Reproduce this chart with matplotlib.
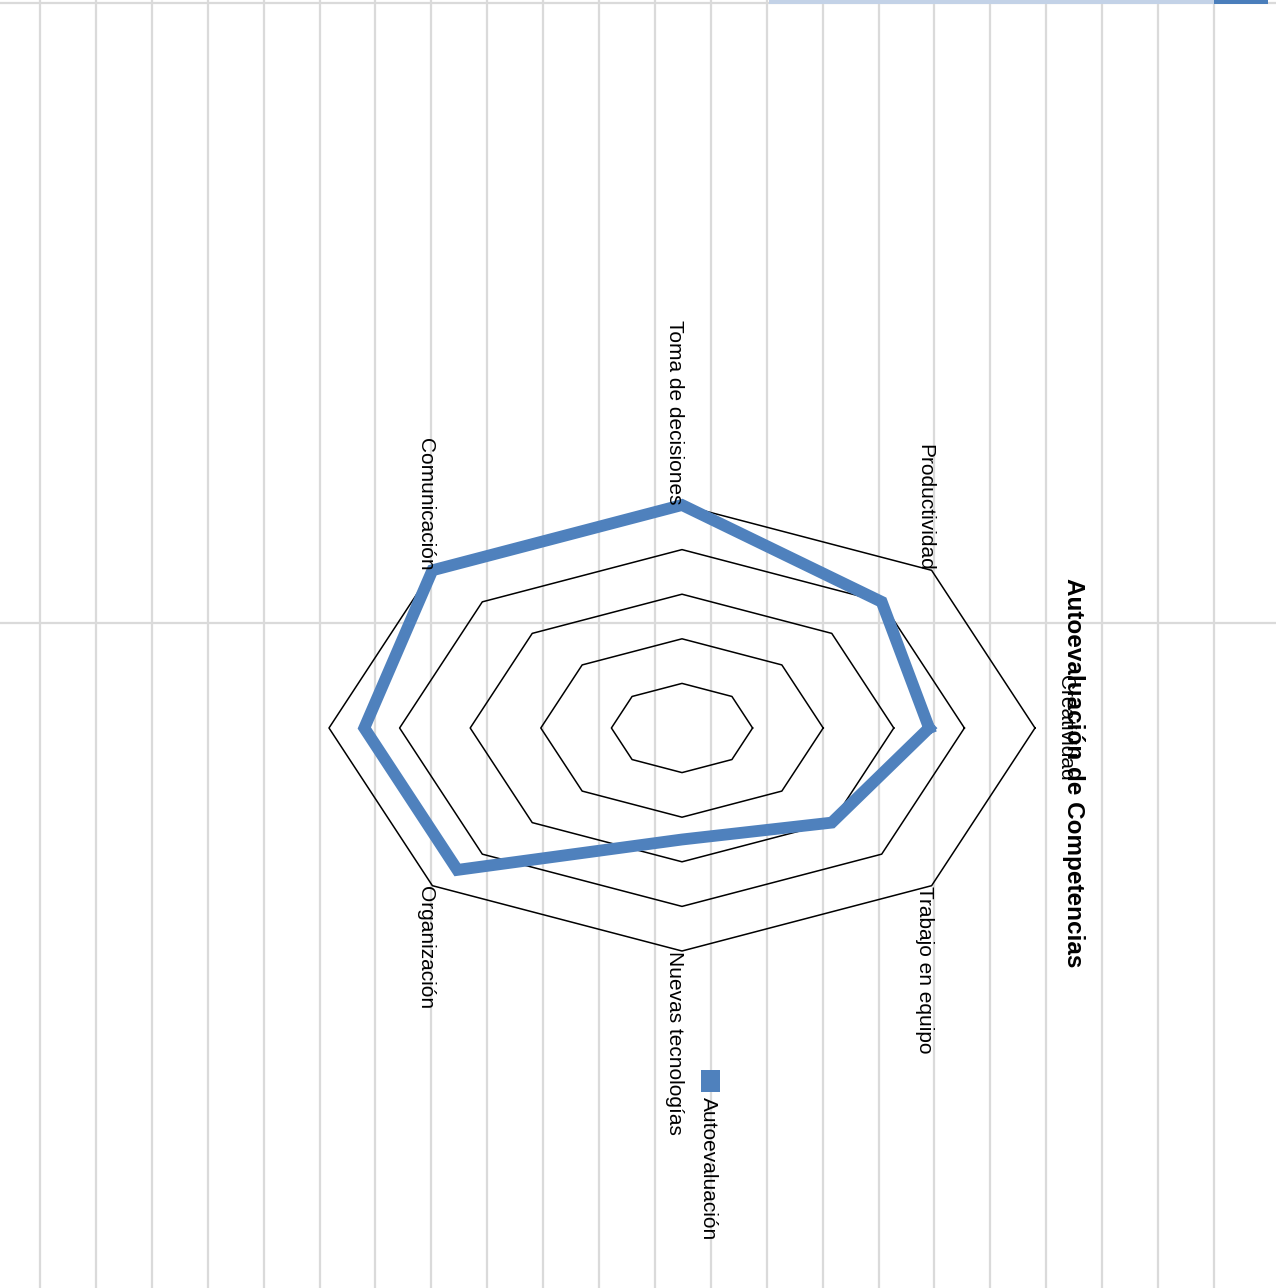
import numpy as np
import matplotlib
matplotlib.use("Agg")
import matplotlib.pyplot as plt
from matplotlib.patches import Rectangle

# axes in the order of the original chart, clockwise (picture is turned 90 deg)
categories = ["Creatividad", "Trabajo en equipo", "Nuevas tecnologías", "Organización",
              "", "Comunicación", "Toma de decisiones", "Productividad"]
autoevaluacion = [3.5, 3, 2.5, 4.5, 4.5, 5, 5, 4]
rings = [1, 2, 3, 4, 5]
title = "Autoevaluación de Competencias"
series_name = "Autoevaluación"

blue = "#4f81bd"
font = ["Liberation Sans", "DejaVu Sans"]

W, H = 1276, 1288
fig = plt.figure(figsize=(W / 100, H / 100), dpi=100)

# spreadsheet background
bg = fig.add_axes([0, 0, 1, 1])
bg.set_xlim(0, W)
bg.set_ylim(H, 0)
bg.axis("off")
for x in np.linspace(40, 1214, 22):
    bg.axvline(x, color="#dadada", lw=1.6, zorder=0)
for y in [3, 623]:
    bg.axhline(y, color="#dadada", lw=1.6, zorder=0)
bg.add_patch(Rectangle((769, 0), 445, 4, color="#c3d2e7", lw=0, zorder=1))
bg.add_patch(Rectangle((1214, 0), 54, 4, color="#4a7ebb", lw=0, zorder=1))

# radar drawn in its own axes, squashed like the original
cx, cy = 682, 728
ux, uy = 70.6, 44.6   # pixels per unit
lim = 6.5
ax = fig.add_axes([(cx - lim * ux) / W, (H - cy - lim * uy) / H,
                   2 * lim * ux / W, 2 * lim * uy / H])
ax.set_xlim(-lim, lim)
ax.set_ylim(-lim, lim)
ax.axis("off")
ax.patch.set_alpha(0)

n = len(categories)
theta = 2 * np.pi * np.arange(n) / n
cs, sn = np.cos(theta), -np.sin(theta)

for r in rings:
    ax.plot(np.append(r * cs, r * cs[0]), np.append(r * sn, r * sn[0]),
            color="black", lw=1.1, zorder=2)

vals = np.array(autoevaluacion, dtype=float)
ax.plot(np.append(vals * cs, vals[0] * cs[0]), np.append(vals * sn, vals[0] * sn[0]),
        color=blue, lw=8.5, solid_joinstyle="miter", zorder=3)

rmax = max(rings)
for lab, c, s in zip(categories, cs, sn):
    if not lab:
        continue
    if abs(s) < 0.01:
        ha, va = ("left", "center") if c > 0 else ("right", "center")
        dx = 0.3 if c > 0 else -0.3
    else:
        ha = "center"
        va = "bottom" if s > 0 else "top"
        dx = -0.1
    ax.text(rmax * c + dx, rmax * s, lab,
            rotation=270, ha=ha, va=va, fontsize=15, family=font, zorder=4)

fig.text(1073 / W, 1 - 773 / H, title, rotation=270, ha="center", va="center",
         fontsize=17.5, fontweight="bold", family=font)

bg.add_patch(Rectangle((701, 1070), 19, 22, color=blue, lw=0, zorder=5))
bg.text(708, 1097, series_name, rotation=270, ha="center", va="top",
        fontsize=15, family=font)

fig.savefig("out.png", dpi=100)
